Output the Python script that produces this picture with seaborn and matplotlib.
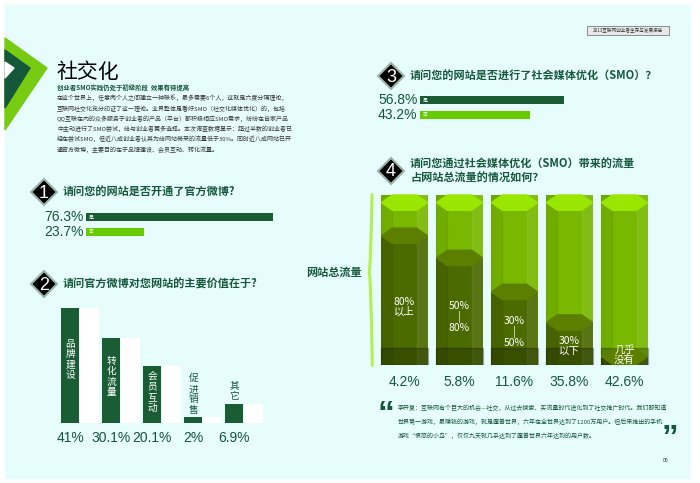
import matplotlib
matplotlib.use("Agg")
import matplotlib.pyplot as plt
import seaborn as sns
import pandas as pd
import numpy as np
from matplotlib.patches import Polygon, Rectangle

plt.rcParams["font.family"] = ["Noto Sans CJK SC", "DejaVu Sans"]

# ---------------- data ----------------
q1_labels = ["是", "否"]
q1_values = [76.3, 23.7]
q2_categories = ["品牌建设", "转化流量", "会员互动", "促进销售", "其它"]
q2_values = [41, 30.1, 20.1, 2, 6.9]
q3_labels = ["是", "否"]
q3_values = [56.8, 43.2]
q4_categories = ["80%\n以上", "50%\n|\n80%", "30%\n|\n50%", "30%\n以下", "几乎\n没有"]
q4_share = [4.2, 5.8, 11.6, 35.8, 42.6]
q4_fill_level = [0.76, 0.63, 0.43, 0.25, 0.05]

DARK = "#14573a"
BAR_DARK = "#1a5c34"
LIGHT = "#66cc00"
BG = "#e6fdfc"
W, H = 700, 483
NUMFONT = ["Liberation Sans", "DejaVu Sans"]

fig = plt.figure(figsize=(7, 4.83), dpi=100, facecolor="white")

def ax_px(x0, y0, w, h):
    return fig.add_axes([x0 / W, 1 - (y0 + h) / H, w / W, h / H])

base = ax_px(0, 0, W, H)
base.set_xlim(0, W); base.set_ylim(H, 0); base.axis("off")
base.add_patch(Rectangle((5, 5), 685, 473, color=BG, zorder=0))

# left chevron decoration
base.add_patch(Polygon([(5, 38), (47, 68), (5, 130)], color="#77cc11", zorder=1))
base.add_patch(Polygon([(5, 50), (30, 68), (5, 108)], color="#14573a", zorder=2))
base.add_patch(Polygon([(5, 62), (14, 68), (5, 78)], color="white", zorder=3))

# header box
base.add_patch(Rectangle((587, 26), 82, 9, facecolor="#e8e8e8", edgecolor="#666666", lw=0.5))
base.text(628, 30.5, "2013互联网创业者生存与发展报告", fontsize=3.3, ha="center", va="center", color="#333")

base.text(56, 72, "社交化", fontsize=15, color="black", va="center")
base.text(57, 88, "创业者SMO实践仍处于初级阶段  效果有待提高", fontsize=4.6, weight="bold", color=DARK, va="center")
para = ["在这个世界上，任意两个人之间建立一种联系，最多需要6个人，这就是六度分隔理论，",
        "互联网社交化充分印证了这一理论。业界整体是看好SMO（社交化媒体优化）的，包括",
        "QQ互联在内的众多服务于创业者的产品（平台）都积极相应SMO需求，纷纷在自家产品",
        "中主动进行了SMO尝试，给与创业者更多选择。本次调查数据显示：超过半数的创业者已",
        "经在尝试SMO，但近八成创业者认其为给网站带来的流量低于30%。同时近八成网站已开",
        "通官方微博，主要目的在于品牌建设、会员互动、转化流量。"]
for i, line in enumerate(para):
    base.text(57, 98 + i * 10.3, line, fontsize=4.3, color="#333333", va="center")

def diamond(cx, cy, n):
    r = 13
    base.add_patch(Polygon([(cx, cy - r), (cx + r, cy), (cx, cy + r), (cx - r, cy)],
                           facecolor="black", edgecolor="#9ab5a8", lw=1.5, zorder=4))
    base.text(cx, cy + 1, str(n), color="white", fontsize=13, ha="center", va="center", zorder=5,
              family=NUMFONT)

diamond(44, 192, 1)
base.text(63, 192, "请问您的网站是否开通了官方微博?", fontsize=8, weight="bold", color=DARK, va="center")
diamond(44, 284, 2)
base.text(63, 284, "请问官方微博对您网站的主要价值在于?", fontsize=8, weight="bold", color=DARK, va="center")
diamond(391, 76, 3)
base.text(410, 76, "请问您的网站是否进行了社会媒体优化（SMO）？", fontsize=8, weight="bold", color=DARK, va="center")
diamond(391, 171, 4)
base.text(410, 164, "请问您通过社会媒体优化（SMO）带来的流量", fontsize=8, weight="bold", color=DARK, va="center")
base.text(410, 178, "占网站总流量的情况如何？", fontsize=8, weight="bold", color=DARK, va="center")

# ---------- horizontal yes/no bars ----------
def yesno(x0, yc0, scale_w, labels, values):
    ax = ax_px(x0, yc0 - 7.5, scale_w, 30)
    df = pd.DataFrame({"label": labels, "value": values})
    sns.barplot(data=df, y="label", x="value", hue="label", palette=[BAR_DARK, LIGHT],
                orient="h", width=0.55, ax=ax, legend=False, saturation=1)
    ax.set_xlim(0, 100)
    ax.axis("off")
    for i, (lab, v) in enumerate(zip(labels, values)):
        ax.text(-1, i, f"{v}%", ha="right", va="center", fontsize=10, color=DARK, family=NUMFONT)
        ax.text(1, i, lab, ha="left", va="center", fontsize=3.5, color="white")
    ax.patch.set_alpha(0)

yesno(86, 217, 245, q1_labels, q1_values)
yesno(420, 100, 254, q3_labels, q3_values)

# ---------- Q2 vertical bars ----------
ax2 = ax_px(60, 302, 205, 121)
df2 = pd.DataFrame({"cat": q2_categories, "value": q2_values})
x = np.arange(len(q2_categories))
ax2.bar(x + 0.47, q2_values, width=0.47, color="white", zorder=1)
sns.barplot(data=df2, x="cat", y="value", color=BAR_DARK, saturation=1, width=0.44,
            ax=ax2, zorder=2)
ax2.set_xlim(-0.25, 4.75)
ax2.set_ylim(0, 43)
ax2.axis("off")
ax2.patch.set_alpha(0)
for i, (c, v) in enumerate(zip(q2_categories, q2_values)):
    vt = "\n".join(c)
    if v > 15:
        ax2.text(i, v * 0.55, vt, ha="center", va="center", color="white", fontsize=7, linespacing=1.05)
    else:
        ax2.text(i, v + 1, vt, ha="center", va="bottom", color=DARK, fontsize=7, linespacing=1.05)
    ax2.text(i, -3, f"{v}%", ha="center", va="top", color=DARK, fontsize=10, clip_on=False,
             family=NUMFONT)

# ---------- Q4 columns ----------
ax4 = ax_px(377, 195, 275, 170)
df4 = pd.DataFrame({"cat": q4_categories, "full": [1.0] * 5, "level": q4_fill_level})
sns.barplot(data=df4, x="cat", y="full", color="#78b800", saturation=1, width=0.84, ax=ax4)
sns.barplot(data=df4, x="cat", y="level", color="#4b6a00", saturation=1, width=0.84, ax=ax4)
ax4.set_ylim(0, 1.0)
ax4.set_xlim(-0.5, 4.5)
ax4.axis("off")
ax4.patch.set_alpha(0)
hw = 0.42
def hexcap(i, y, color, h=0.045):
    ax4.add_patch(Polygon([(i - hw, y), (i - hw + 0.2, y + h), (i + hw - 0.2, y + h), (i + hw, y),
                           (i + hw - 0.2, y - h), (i - hw + 0.2, y - h)], color=color, zorder=5, clip_on=False))
for i, (lv, s, c) in enumerate(zip(q4_fill_level, q4_share, q4_categories)):
    ax4.add_patch(Rectangle((i - hw, 0), 0.2, 1, color="black", alpha=0.06, zorder=4))
    ax4.add_patch(Rectangle((i + hw - 0.2, 0), 0.2, 1, color="white", alpha=0.08, zorder=4))
    ax4.add_patch(Rectangle((i - hw, 0), 2 * hw, 0.1, color="black", alpha=0.25, zorder=4))
    hexcap(i, 0.955, "#99e600")
    hexcap(i, lv, "#5d7f00")
    ty = lv * 0.45 if lv > 0.2 else 0.06
    ax4.text(i, ty, c, ha="center", va="center", color="white", fontsize=7.5, linespacing=1.0, zorder=6)
    ax4.text(i, -0.06, f"{s}%", ha="center", va="top", color=DARK, fontsize=10, clip_on=False,
             family=NUMFONT)

# brace
t = np.linspace(0, 1, 200)
by = 195 + 170 * t
bx = 369 + 4.5 * np.sqrt(np.abs(t - 0.45))
base.plot(bx, by, color="#b5ee55", lw=2.2, zorder=3)
base.text(306, 272, "网站总流量", fontsize=8, color=DARK, va="center", weight="bold")

# quote
base.text(378, 416, "\u201c", fontsize=24, color=DARK, weight="bold", va="center", family=NUMFONT)
quote = ["李开复：互联网有个巨大的机会—社交，从过去搜索、买流量时代进化到了社交推广时代。我们都知道",
         "世界第一游戏，最赚钱的游戏，就是魔兽世界，六年在全世界达到了1200万用户。但后来推出的手机",
         "游戏“愤怒的小鸟”，仅仅九天就几乎达到了魔兽世界六年达到的用户数。"]
for i, q in enumerate(quote):
    base.text(398, 408 + i * 14, q, fontsize=4.3, color=DARK, va="center")
base.text(662, 440, "\u201d", fontsize=24, color=DARK, weight="bold", va="center", family=NUMFONT)
base.text(663, 461, "06", fontsize=3.8, color="#333", va="center")

fig.savefig("out.png", dpi=100, facecolor="white")
